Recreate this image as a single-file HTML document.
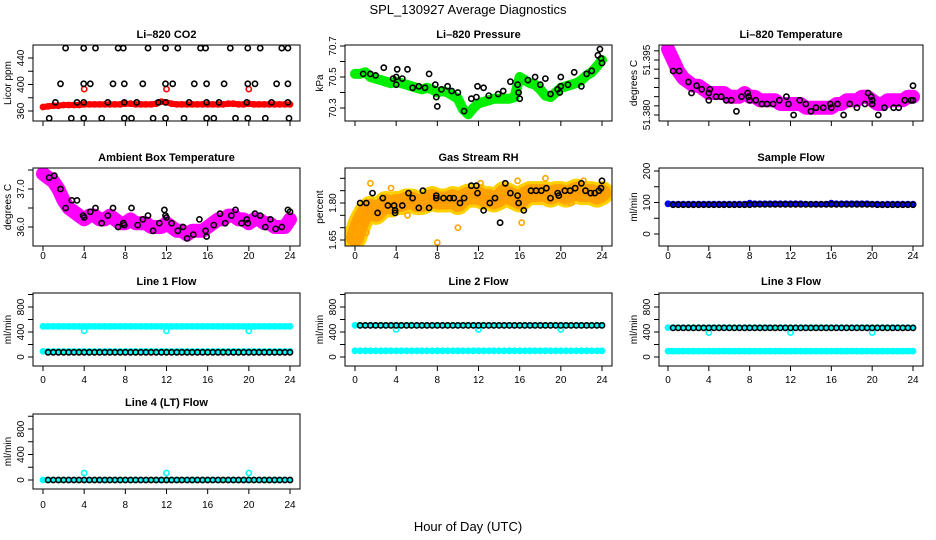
<!DOCTYPE html>
<html><head><meta charset="utf-8"><title>SPL_130927 Average Diagnostics</title>
<style>
html,body{margin:0;padding:0;background:#fff;}
svg{display:block;font-family:"Liberation Sans",Arial,sans-serif;}
</style></head>
<body>
<svg id="chart" width="936" height="540" viewBox="0 0 936 540" xmlns="http://www.w3.org/2000/svg">
<rect x="0" y="0" width="936" height="540" fill="#fff"/>
<text x="468" y="14" font-size="13" text-anchor="middle" fill="#000">SPL_130927  Average Diagnostics</text>
<text x="468" y="531" font-size="13" text-anchor="middle" fill="#000">Hour of Day (UTC)</text>
</svg>
<script>
// ---- categories ----
const halfHours = [0,0.5,1,1.5,2,2.5,3,3.5,4,4.5,5,5.5,6,6.5,7,7.5,8,8.5,9,9.5,10,10.5,11,11.5,12,12.5,13,13.5,14,14.5,15,15.5,16,16.5,17,17.5,18,18.5,19,19.5,20,20.5,21,21.5,22,22.5,23,23.5,24];
const blackHours = [0.5,1,1.5,2,2.5,3,3.5,4,4.5,5,5.5,6,6.5,7,7.5,8,8.5,9,9.5,10,10.5,11,11.5,12,12.5,13,13.5,14,14.5,15,15.5,16,16.5,17,17.5,18,18.5,19,19.5,20,20.5,21,21.5,22,22.5,23,23.5,24];
const calHours = [4,12,20];
const xTicks = [0,4,8,12,16,20,24];

// ---- Li-820 CO2 ----
const co2Red = [366,367,368,368,369,369,369,369,370,370, 370,370,370,370,370,370,371,371,370,370, 370,370,371,374,373,371,370,370,370,370, 370,370,370,370,370,370,371,371,370,370, 371,370,370,370,370,370,370,370,370];
const co2BlackHours = [2.2,3.95,5.1,7.3,7.8,10.2,11.9,13.1,15.3,15.8,18.2,19.9,21.1,23.2,23.8, 1.7,3.95,4.6,6.8,7.9,9.7,11.9,12.6,14.7,15.9,17.6,19.9,20.6,22.7,23.8, 1.2,3.3,3.95,6.3,7.9,9.1,11.2,11.9,14.2,15.9,17.1,19.8,22.2,23.8, 0.6,2.75,3.95,5.7,7.9,8.6,10.7,11.9,13.7,15.9,16.6,18.7,19.9,21.6,23.9];
const co2Black = [455,455,455,455,455,455,455,455,455,455,455,455,455,455,455, 401,401,401,401,401,401,401,401,401,401,401,401,401,401,401, 373,373,373,373,373,373,373,373,373,373,373,373,373,373, 349,349,349,349,349,349,349,349,349,349,349,349,349,349,349];
const co2Cal = [393,393,393];

// ---- Li-820 Pressure ----
const pressGreen = [70.52,70.52,70.53,70.50,70.49,70.48,70.47,70.46,70.47,70.46, 70.45,70.44,70.43,70.42,70.43,70.42,70.40,70.41,70.40,70.38, 70.36,70.29,70.26,70.30,70.33,70.34,70.35,70.36,70.36,70.36, 70.36,70.37,70.50,70.48,70.46,70.45,70.42,70.38,70.37,70.40, 70.43,70.44,70.45,70.46,70.48,70.51,70.53,70.57,70.61];
const pressBlackHours = [0.8,1.5,2,2.8,3.7,4,4,4.1,4.6,5.1,5.6,6.2,6.8,7.2,7.8,7.9,8,8.4,9,9.4,10,10.6,11.3,11.8,11.9,12.5,13,13.9,14.4,15.1,15.8,15.9,16,16.8,17.5,18,18.5,19,19.7,19.9,20,20,20.7,21.3,22,22.5,23,23.6,23.8,23.9,24];
const pressBlack = [70.52,70.52,70.51,70.56,70.49,70.50,70.45,70.55,70.49,70.55,70.43,70.44,70.43,70.52,70.45,70.37,70.31,70.42,70.44,70.41,70.40,70.28,70.36,70.37,70.44,70.43,70.38,70.39,70.41,70.47,70.45,70.40,70.36,70.48,70.50,70.45,70.49,70.39,70.42,70.40,70.44,70.50,70.45,70.53,70.44,70.52,70.54,70.64,70.68,70.62,70.59];

// ---- Li-820 Temperature ----
const tempMagenta = [51.398,51.395,51.392,51.390,51.389,51.388,51.388,51.387,51.386,51.386, 51.386,51.386,51.385,51.385,51.385,51.386,51.385,51.385,51.384,51.384, 51.384,51.384,51.383,51.383,51.383,51.383,51.383,51.382,51.382,51.382, 51.382,51.382,51.382,51.383,51.383,51.384,51.384,51.384,51.385,51.385, 51.384,51.383,51.383,51.384,51.384,51.384,51.384,51.385,51.385];
const tempBlackHours = [0.5,1.1,2,2.3,2.8,3.3,4,4,4.1,4.7,5.2,5.7,6.2,6.7,7.2,7.8,7.9,8,8.6,9.2,9.7,10.3,10.9,11.6,11.8,12.3,12.9,13.5,14,14.5,15.2,15.9,16,16.6,17.2,17.8,18.5,19.3,19.6,19.9,20,20,20.6,21.2,22.1,22.6,23.2,23.8,24,24];
const tempBlack = [51.392,51.392,51.389,51.386,51.388,51.387,51.386,51.384,51.387,51.385,51.385,51.384,51.384,51.381,51.385,51.386,51.385,51.384,51.384,51.383,51.383,51.383,51.384,51.385,51.383,51.380,51.384,51.383,51.381,51.382,51.382,51.383,51.382,51.383,51.380,51.383,51.382,51.383,51.386,51.385,51.384,51.383,51.380,51.382,51.382,51.382,51.384,51.384,51.384,51.388];

// ---- Ambient Box Temperature ----
const ambMagenta = [37.4,37.3,37.2,37.0,36.7,36.5,36.4,36.3,36.2,36.3, 36.3,36.2,36.2,36.3,36.2,36.1,36.1,36.2,36.1,36.1, 36.1,36.0,36.0,36.0,36.1,36.0,35.9,35.9,35.8,35.9, 35.9,35.9,36.0,36.1,36.2,36.2,36.3,36.3,36.2,36.2, 36.1,36.2,36.2,36.1,36.1,36.0,36.0,36.0,36.2];
const ambBlackHours = [0.6,1.1,1.7,2.2,2.8,3.3,3.9,4,4.6,5.1,5.7,6.3,6.8,7.3,7.8,7.9,8.6,9.2,9.7,10.2,10.7,11.3,11.8,11.9,12,12.5,13.1,13.6,14,14.6,15.2,15.8,15.9,16.6,17.2,17.7,18.3,18.7,19.3,19.8,19.9,20.6,21.1,21.6,22.1,22.6,23.2,23.8,24];
const ambBlack = [37.3,37.35,37.0,36.5,36.7,36.7,36.3,36.25,36.4,36.5,36.1,36.3,36.5,36.0,36.1,36.05,36.5,36.05,36.2,36.3,35.9,36.1,36.45,36.3,36.25,36.1,35.9,36.0,35.7,35.8,36.2,35.9,35.75,36.05,36.35,36.1,36.3,36.45,36.1,36.2,36.1,36.35,36.3,36.0,36.2,35.95,36.0,36.45,36.4];

// ---- Gas Stream RH ----
const rhOrange = [1.66,1.72,1.76,1.78,1.76,1.78,1.80,1.79,1.80,1.80, 1.81,1.81,1.80,1.80,1.81,1.82,1.81,1.81,1.81,1.82, 1.80,1.82,1.83,1.83,1.83,1.82,1.82,1.81,1.82,1.84, 1.83,1.82,1.81,1.83,1.84,1.84,1.84,1.84,1.83,1.84, 1.84,1.83,1.84,1.85,1.84,1.84,1.84,1.83,1.84];
const rhOutlierHours = [0,0.2,0.4,1.1,1.5,3.5,5.1,8,10,12.2,14.2,15.8,16.2,18.5,21,22.2];
const rhOutliers = [1.64,1.67,1.70,1.68,1.88,1.86,1.75,1.64,1.70,1.88,1.85,1.89,1.72,1.90,1.80,1.89];
const rhBlackHours = [0.5,1.1,1.7,2.2,2.7,3.2,3.8,3.9,3.9,4.6,5.2,5.6,6.2,6.6,7.2,7.9,7.9,8.6,9.2,9.6,10.2,10.6,11.3,11.8,11.9,12.5,13.1,13.6,14.1,14.6,15.1,15.8,15.9,16.4,17.1,17.6,18.1,18.6,19.0,19.7,19.8,20.4,20.9,21.4,22.0,22.4,22.9,23.3,23.7,23.9,24.0];
const rhBlack = [1.80,1.80,1.84,1.76,1.82,1.79,1.79,1.77,1.76,1.79,1.84,1.82,1.78,1.85,1.78,1.82,1.83,1.82,1.82,1.82,1.80,1.82,1.87,1.87,1.84,1.77,1.80,1.82,1.72,1.88,1.84,1.83,1.80,1.77,1.85,1.85,1.85,1.86,1.82,1.84,1.83,1.85,1.85,1.86,1.88,1.85,1.84,1.84,1.85,1.86,1.89];

// ---- Sample Flow ----
const sampleBlue = [96,95,95,95,95,95,95,95,95,95, 95,95,95,95,95,95,98,96,96,96, 96,96,96,96,96,96,96,95,95,95, 95,95,98,96,96,96,96,96,96,96, 95,95,94,95,95,95,95,95,95];
const sampleBlack = [93,93,93,93,93,93,93,93,93,93,93,93,93,93,93,93, 94,94,94,94,94,94,94,94,94,94,94,94,94,94,94,94, 94,94,94,94,94,94,94,94,93,93,93,93,93,93,93,93];

// ---- Line flows ----
const line1CyanHigh = [490,490,490,490,490,490,490,490,490,490, 490,490,490,490,490,490,490,490,490,490, 490,490,490,490,490,490,490,490,490,490, 490,490,490,490,490,490,490,490,490,490, 490,490,490,490,490,490,490,490,490];
const line1CyanLow = [90,90,90,90,90,90,90,90,90,90, 90,90,90,90,90,90,90,90,90,90, 90,90,90,90,90,90,90,90,90,90, 90,90,90,90,90,90,90,90,90,90, 90,90,90,90,90,90,90,90,90];
const line1Black = [75,75,75,75,75,75,75,75,75,75,75,75,75,75,75,75, 75,75,75,75,75,75,75,75,75,75,75,75,75,75,75,75, 75,75,75,75,75,75,75,75,75,75,75,75,75,75,75,75];
const line1Cal = [420,420,420];

const line2CyanHigh = [505,505,505,505,505,505,505,505,505,505, 505,505,505,505,505,505,505,505,505,505, 505,505,505,505,505,505,505,505,505,505, 505,505,505,505,505,505,505,505,505,505, 505,505,505,505,505,505,505,505,505];
const line2CyanLow = [100,100,100,100,100,100,100,100,100,100, 100,100,100,100,100,100,100,100,100,100, 100,100,100,100,100,100,100,100,100,100, 100,100,100,100,100,100,100,100,100,100, 100,100,100,100,100,100,100,100,100];
const line2Black = [505,505,505,505,505,505,505,505,505,505,505,505,505,505,505,505, 505,505,505,505,505,505,505,505,505,505,505,505,505,505,505,505, 505,505,505,505,505,505,505,505,505,505,505,505,505,505,505,505];
const line2Cal = [440,440,440];

const line3CyanHigh = [470,470,470,470,470,470,470,470,470,470, 470,470,470,470,470,470,470,470,470,470, 470,470,470,470,470,470,470,470,470,470, 470,470,470,470,470,470,470,470,470,470, 470,470,470,470,470,470,470,470,470];
const line3CyanLow = [95,95,95,95,95,95,95,95,95,95, 95,95,95,95,95,95,95,95,95,95, 95,95,95,95,95,95,95,95,95,95, 95,95,95,95,95,95,95,95,95,95, 95,95,95,95,95,95,95,95,95];
const line3Black = [465,465,465,465,465,465,465,465,465,465,465,465,465,465,465,465, 465,465,465,465,465,465,465,465,465,465,465,465,465,465,465,465, 465,465,465,465,465,465,465,465,465,465,465,465,465,465,465,465];
const line3Cal = [390,390,390];

const line4Cyan = [0,0,0,0,0,0,0,0,0,0, 0,0,0,0,0,0,0,0,0,0, 0,0,0,0,0,0,0,0,0,0, 0,0,0,0,0,0,0,0,0,0, 0,0,0,0,0,0,0,0,0];
const line4Black = [0,0,0,0,0,0,0,0,0,0,0,0,0,0,0,0, 0,0,0,0,0,0,0,0,0,0,0,0,0,0,0,0, 0,0,0,0,0,0,0,0,0,0,0,0,0,0,0,0];
const line4Cal = [110,110,110];

const flowTicks = [0,200,400,600,800,1000];
const flowLabels = ["0","","400","","800",""];

// ---- layout ----
const NS = "http://www.w3.org/2000/svg";
const svg = document.getElementById('chart');
const cols = [{l:33,r:300,x0:43,x24:290},{l:345,r:612,x0:355,x24:602},{l:659,r:923,x0:668,x24:913}];
const rows = [{t:45,b:121,ty:38,ly:0},{t:168,b:246,ty:161,ly:259},{t:293,b:366,ty:285,ly:383},{t:414,b:489,ty:406,ly:508}];

function el(tag, attrs, parent){
  const e = document.createElementNS(NS, tag);
  for (const k in attrs) e.setAttribute(k, attrs[k]);
  (parent||svg).appendChild(e);
  return e;
}

let clipId = 0;
function panel(p){
  const c = cols[p.col], r = rows[p.row];
  const g = el('g', {});
  
  
  const xs = h => c.x0 + h*(c.x24-c.x0)/24;
  const ys = v => p.ya[1] + (v-p.ya[0])*(p.ya[3]-p.ya[1])/(p.ya[2]-p.ya[0]);
  const t = el('text', {x:(c.l+c.r)/2, y:r.ty, 'font-size':11, 'font-weight':'bold', 'text-anchor':'middle'}, g);
  
  
  t.textContent = p.title;
  const id = 'clip' + (clipId++);
  const cp = el('clipPath', {id:id}, g);
  el('rect', {x:c.l, y:r.t, width:c.r-c.l, height:r.b-r.t}, cp);
  const plot = el('g', {'clip-path':'url(#'+id+')'}, g);
  
  
  for (const L of p.layers){
    const lg = el('g', {}, plot);
    
    
    if (L.band){
      const pts = L.hours.map((h,i)=> xs(h).toFixed(1)+','+ys(L.values[i]).toFixed(1)).join(' ');
      el('polyline', {points:pts, fill:'none', stroke:L.color, 'stroke-width':L.band, 'stroke-linejoin':'round', 'stroke-linecap':'round', opacity:L.op||1}, lg);
    }
    if (L.pts !== false){
      L.hours.forEach((h,i)=>{
        const ci = el('circle', {cx:xs(h).toFixed(1), cy:ys(L.values[i]).toFixed(1), r:2.6, fill:'none', stroke:L.color, 'stroke-width':1.6}, lg);
        
        
      });
    }
  }
  const box = el('rect', {x:c.l, y:r.t, width:c.r-c.l, height:r.b-r.t, fill:'none', stroke:'#000', 'stroke-width':1}, g);
  
  
  const xa = el('g', {}, g);
  
  
  el('line', {x1:xs(0), x2:xs(24), y1:r.b, y2:r.b, stroke:'#000'}, xa);
  xTicks.forEach(tv=>{
    el('line', {x1:xs(tv), x2:xs(tv), y1:r.b, y2:r.b+5, stroke:'#000'}, xa);
    if (r.ly){
      const tl = el('text', {x:xs(tv), y:r.ly, 'font-size':10, 'text-anchor':'middle'}, xa);
      
      
      tl.textContent = tv;
    }
  });
  const ya = el('g', {}, g);
  
  
  const vis = p.yticks.filter(v=> ys(v) >= r.t-1 && ys(v) <= r.b+1);
  el('line', {x1:c.l, x2:c.l, y1:ys(vis[0]), y2:ys(vis[vis.length-1]), stroke:'#000'}, ya);
  p.yticks.forEach((v,i)=>{
    const y = ys(v);
    if (y < r.t-1 || y > r.b+1) return;
    el('line', {x1:c.l-5, x2:c.l, y1:y, y2:y, stroke:'#000'}, ya);
    if (p.ylabels[i]){
      const lx = c.l-9;
      const tl = el('text', {x:lx, y:y, 'font-size':10, 'text-anchor':'middle', transform:'rotate(-90 '+lx+' '+y+')'}, ya);
      
      
      tl.textContent = p.ylabels[i];
    }
  });
  const yl = el('text', {x:c.l-22, y:(r.t+r.b)/2, 'font-size':10, 'text-anchor':'middle', transform:'rotate(-90 '+(c.l-22)+' '+((r.t+r.b)/2)+')'}, g);
  
  
  yl.textContent = p.ylab;
}

panel({name:'co2', col:0, row:0, title:'Li\u2013820 CO2', ylab:'Licor ppm', ya:[360,111,440,58],
  yticks:[360,380,400,420,440], ylabels:['360','','400','','440'],
  layers:[
    {name:'co2-average-band', hours:halfHours, values:co2Red, color:'#ff0000', band:6},
    {name:'co2-calibration', hours:calHours, values:co2Cal, color:'#ff0000'},
    {name:'co2-hourly', hours:co2BlackHours, values:co2Black, color:'#000'}]});
panel({name:'pressure', col:1, row:0, title:'Li\u2013820 Pressure', ylab:'kPa', ya:[70.3,108,70.7,46],
  yticks:[70.3,70.4,70.5,70.6,70.7], ylabels:['70.3','','70.5','','70.7'],
  layers:[
    {name:'pressure-average-band', hours:halfHours, values:pressGreen, color:'#00ee00', band:10},
    {name:'pressure-hourly', hours:pressBlackHours, values:pressBlack, color:'#000'}]});
panel({name:'licor-temperature', col:2, row:0, title:'Li\u2013820 Temperature', ylab:'degrees C', ya:[51.380,115,51.395,60],
  yticks:[51.380,51.3825,51.385,51.3875,51.390,51.3925,51.395,51.3975], ylabels:['51.380','','','','','','51.395',''],
  layers:[
    {name:'licor-temperature-band', hours:halfHours, values:tempMagenta, color:'#ff00ff', band:14},
    {name:'licor-temperature-hourly', hours:tempBlackHours, values:tempBlack, color:'#000'}]});
panel({name:'ambient-temperature', col:0, row:1, title:'Ambient Box Temperature', ylab:'degrees C', ya:[36,227,37,189],
  yticks:[36.0,36.5,37.0,37.5], ylabels:['36.0','','37.0',''],
  layers:[
    {name:'ambient-temperature-band', hours:halfHours, values:ambMagenta, color:'#ff00ff', band:14},
    {name:'ambient-temperature-hourly', hours:ambBlackHours, values:ambBlack, color:'#000'}]});
panel({name:'gas-stream-rh', col:1, row:1, title:'Gas Stream RH', ylab:'percent', ya:[1.65,240,1.80,203],
  yticks:[1.65,1.70,1.75,1.80,1.85,1.90], ylabels:['1.65','','','1.80','',''],
  layers:[
    {name:'rh-band-yellow', hours:halfHours, values:rhOrange, color:'#ffd000', band:24, pts:false},
    {name:'rh-average-band', hours:halfHours, values:rhOrange, color:'#ff9a00', band:18, op:0.85},
    {name:'rh-outliers', hours:rhOutlierHours, values:rhOutliers, color:'#ffa500'},
    {name:'rh-hourly', hours:rhBlackHours, values:rhBlack, color:'#000'}]});
panel({name:'sample-flow', col:2, row:1, title:'Sample Flow', ylab:'ml/min', ya:[0,234,200,171],
  yticks:[0,50,100,150,200], ylabels:['0','','100','','200'],
  layers:[
    {name:'sample-flow-band', hours:halfHours, values:sampleBlue, color:'#0000ff', band:5},
    {name:'sample-flow-hourly', hours:blackHours, values:sampleBlack, color:'#000'}]});
panel({name:'line1-flow', col:0, row:2, title:'Line 1 Flow', ylab:'ml/min', ya:[0,357,800,307],
  yticks:flowTicks, ylabels:flowLabels,
  layers:[
    {name:'line1-high-band', hours:halfHours, values:line1CyanHigh, color:'#00ffff', band:6},
    {name:'line1-low-band', hours:halfHours, values:line1CyanLow, color:'#00ffff', band:5},
    {name:'line1-calibration', hours:calHours, values:line1Cal, color:'#00ffff'},
    {name:'line1-hourly', hours:blackHours, values:line1Black, color:'#000'}]});
panel({name:'line2-flow', col:1, row:2, title:'Line 2 Flow', ylab:'ml/min', ya:[0,357,800,307],
  yticks:flowTicks, ylabels:flowLabels,
  layers:[
    {name:'line2-high-band', hours:halfHours, values:line2CyanHigh, color:'#00ffff', band:5},
    {name:'line2-low-band', hours:halfHours, values:line2CyanLow, color:'#00ffff', band:5},
    {name:'line2-calibration', hours:calHours, values:line2Cal, color:'#00ffff'},
    {name:'line2-hourly', hours:blackHours, values:line2Black, color:'#000'}]});
panel({name:'line3-flow', col:2, row:2, title:'Line 3 Flow', ylab:'ml/min', ya:[0,357,800,307],
  yticks:flowTicks, ylabels:flowLabels,
  layers:[
    {name:'line3-high-band', hours:halfHours, values:line3CyanHigh, color:'#00ffff', band:5},
    {name:'line3-low-band', hours:halfHours, values:line3CyanLow, color:'#00ffff', band:6},
    {name:'line3-calibration', hours:calHours, values:line3Cal, color:'#00ffff'},
    {name:'line3-hourly', hours:blackHours, values:line3Black, color:'#000'}]});
panel({name:'line4-flow', col:0, row:3, title:'Line 4 (LT) Flow', ylab:'ml/min', ya:[0,480,800,429],
  yticks:flowTicks, ylabels:flowLabels,
  layers:[
    {name:'line4-band', hours:halfHours, values:line4Cyan, color:'#00ffff', band:5},
    {name:'line4-calibration', hours:calHours, values:line4Cal, color:'#00ffff'},
    {name:'line4-hourly', hours:blackHours, values:line4Black, color:'#000'}]});
</script>
</body></html>
